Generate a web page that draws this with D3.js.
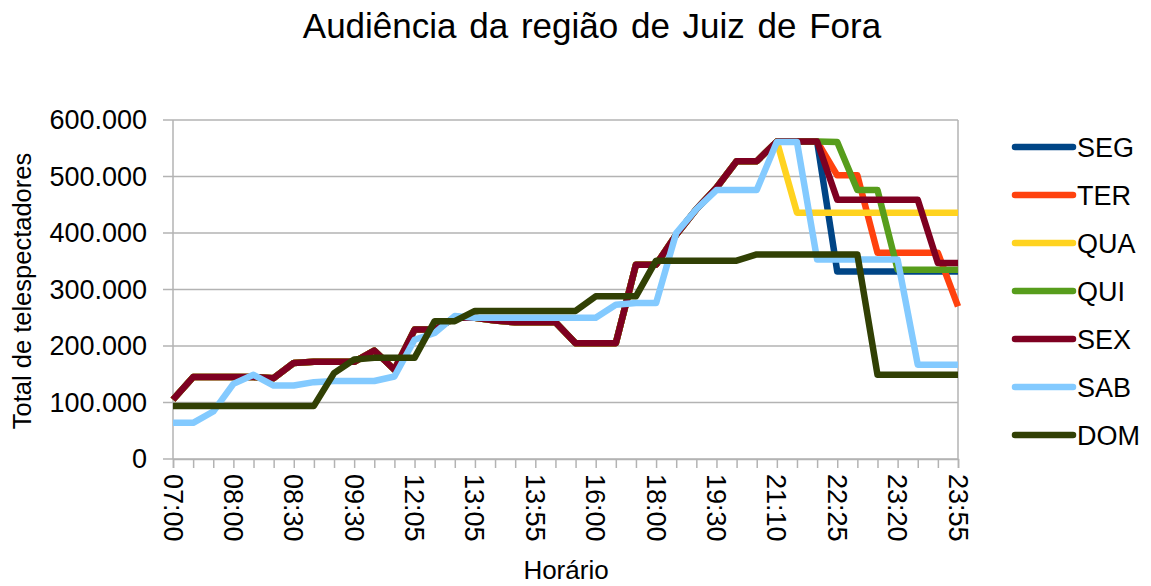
<!DOCTYPE html>
<html>
<head>
    <meta charset="utf-8">
    <style>
        body {
            margin: 0;
            background: #fff;
            font-family: 'Liberation Sans', Arial, sans-serif;
        }
        svg {
            overflow: visible;
        }
    </style>
</head>
<body>
    <svg width="1151" height="586"></svg>

<script src="https://d3js.org/d3.v7.min.js"></script>
<script>
    // tick labels shown on the x axis (every 3rd category)
    let timeLabels = ["07:00", "08:00", "08:30", "09:30", "12:05", "13:05", "13:55",
        "16:00", "18:00", "19:30", "21:10", "22:25", "23:20", "23:55"];

    let seriesNames = ["SEG", "TER", "QUA", "QUI", "SEX", "SAB", "DOM"];
    let colors = ["#004586", "#ff420e", "#ffd320", "#579d1c", "#7e0021", "#83caff", "#314004"];

    // 40 time slots
    let seg = [105000, 145000, 145000, 145000, 145000, 143000, 170000, 172000, 172000, 172000,
        192000, 158000, 229000, 229000, 250000, 250000, 245000, 242000, 242000, 242000,
        205000, 205000, 205000, 344000, 344000, 397000, 442000, 480000, 527000, 527000,
        562000, 562000, 562000, 332000, 332000, 332000, 332000, 332000, 332000, 332000];
    let ter = [105000, 145000, 145000, 145000, 145000, 143000, 170000, 172000, 172000, 172000,
        192000, 158000, 229000, 229000, 250000, 250000, 245000, 242000, 242000, 242000,
        205000, 205000, 205000, 344000, 344000, 397000, 442000, 480000, 527000, 527000,
        562000, 562000, 562000, 502000, 502000, 365000, 365000, 365000, 365000, 270000];
    let qua = [105000, 145000, 145000, 145000, 145000, 143000, 170000, 172000, 172000, 172000,
        192000, 158000, 229000, 229000, 250000, 250000, 245000, 242000, 242000, 242000,
        205000, 205000, 205000, 344000, 344000, 397000, 442000, 480000, 527000, 527000,
        562000, 436000, 436000, 436000, 436000, 436000, 436000, 436000, 436000, 436000];
    let qui = [105000, 145000, 145000, 145000, 145000, 143000, 170000, 172000, 172000, 172000,
        192000, 158000, 229000, 229000, 250000, 250000, 245000, 242000, 242000, 242000,
        205000, 205000, 205000, 344000, 344000, 397000, 442000, 480000, 527000, 527000,
        562000, 562000, 562000, 561000, 476000, 476000, 335000, 335000, 335000, 335000];
    let sex = [105000, 145000, 145000, 145000, 145000, 143000, 170000, 172000, 172000, 172000,
        192000, 158000, 229000, 229000, 250000, 250000, 245000, 242000, 242000, 242000,
        205000, 205000, 205000, 344000, 344000, 397000, 442000, 480000, 527000, 527000,
        562000, 562000, 562000, 459000, 459000, 459000, 459000, 459000, 347000, 347000];
    let sab = [64000, 64000, 84000, 133000, 149000, 130000, 130000, 136000, 138000, 138000,
        138000, 146000, 211000, 223000, 253000, 250000, 250000, 250000, 250000, 250000,
        250000, 250000, 273000, 276000, 276000, 400000, 442000, 476000, 476000, 476000,
        561000, 561000, 353000, 353000, 353000, 353000, 353000, 167000, 167000, 167000];
    let dom = [94000, 94000, 94000, 94000, 94000, 94000, 94000, 94000, 152000, 176000,
        179000, 179000, 179000, 244000, 244000, 262000, 262000, 262000, 262000, 262000,
        262000, 288000, 288000, 288000, 351000, 351000, 351000, 351000, 351000, 362000,
        362000, 362000, 362000, 362000, 362000, 149000, 149000, 149000, 149000, 149000];

    let yTicks = [0, 100000, 200000, 300000, 400000, 500000, 600000];

    let series = [seg, ter, qua, qui, sex, sab, dom];

    let svg = d3.select("svg");
    let margin = { top: 120, right: 193, bottom: 127, left: 173 };
    let width = 1151, height = 586;

    let x = d3.scalePoint()
        .domain(d3.range(seg.length))
        .range([margin.left, width - margin.right]);

    let y = d3.scaleLinear()
        .domain([0, 600000])
        .range([height - margin.bottom, margin.top]);

    let ptBr = d3.formatLocale({ decimal: ",", thousands: ".", grouping: [3], currency: ["R$", ""] });
    let fmt = ptBr.format(",");

    // gridlines
    svg.append("g")
        .selectAll("line")
        .data(yTicks)
        .join("line")
        .attr("x1", margin.left - 10)
        .attr("x2", width - margin.right)
        .attr("y1", d => y(d))
        .attr("y2", d => y(d))
        .style("stroke", "#b3b3b3")
        .style("stroke-width", "1.5px");

    // plot border: left + right
    svg.append("line")
        .attr("x1", margin.left).attr("x2", margin.left)
        .attr("y1", y(600000)).attr("y2", y(0))
        .style("stroke", "#b3b3b3").style("stroke-width", "1.5px");
    svg.append("line")
        .attr("x1", width - margin.right).attr("x2", width - margin.right)
        .attr("y1", y(600000)).attr("y2", y(0))
        .style("stroke", "#b3b3b3").style("stroke-width", "1.5px");

    // y tick labels
    svg.append("g")
        .selectAll("text")
        .data(yTicks)
        .join("text")
        .attr("x", 147)
        .attr("y", d => y(d))
        .attr("dy", "0.35em")
        .style("text-anchor", "end")
        .style("font-size", "27px")
        .text(d => fmt(d));

    // x axis with small ticks at every slot
    let xAxis = d3.axisBottom(x)
        .tickSize(9)
        .tickFormat("");
    let gx = svg.append("g")
        .attr("transform", `translate(0,${y(0)})`)
        .call(xAxis);
    gx.select(".domain").attr("stroke", "#b3b3b3").attr("stroke-width", 1.5);
    gx.selectAll(".tick line").attr("stroke", "#b3b3b3").attr("stroke-width", 1.5);

    // rotated x labels
    svg.append("g")
        .selectAll("text")
        .data(timeLabels)
        .join("text")
        .attr("transform", (d, i) => `translate(${x(i * 3)},${y(0) + 15}) rotate(90)`)
        .attr("dy", "0.35em")
        .style("text-anchor", "start")
        .style("font-size", "27px")
        .text(d => d);

    // lines
    let line = d3.line()
        .x((d, i) => x(i))
        .y(d => y(d));

    svg.append("g")
        .selectAll("path")
        .data(series)
        .join("path")
        .attr("d", d => line(d))
        .style("fill", "none")
        .style("stroke", (d, i) => colors[i])
        .style("stroke-width", "6.5px")
        .style("stroke-linejoin", "round");

    // legend
    let legend = svg.append("g")
        .selectAll("g")
        .data(seriesNames)
        .join("g")
        .attr("transform", (d, i) => `translate(1015,${147 + i * 48})`);
    legend.append("line")
        .attr("x1", 0).attr("x2", 58)
        .style("stroke", (d, i) => colors[i])
        .style("stroke-width", "6.5px")
        .style("stroke-linecap", "round");
    legend.append("text")
        .attr("x", 62)
        .attr("dy", "0.36em")
        .style("font-size", "27px")
        .text(d => d);

    // titles
    svg.append("text")
        .attr("x", 592)
        .attr("y", 38)
        .style("text-anchor", "middle")
        .style("font-size", "35px")
        .style("word-spacing", "3px")
        .text("Audiência da região de Juiz de Fora");

    svg.append("text")
        .attr("transform", "translate(22,291) rotate(-90)")
        .attr("dy", "0.35em")
        .style("text-anchor", "middle")
        .style("font-size", "25.5px")
        .text("Total de telespectadores");

    svg.append("text")
        .attr("x", 566)
        .attr("y", 579)
        .style("text-anchor", "middle")
        .style("font-size", "26px")
        .text("Horário");
</script>
</body>
</html>
